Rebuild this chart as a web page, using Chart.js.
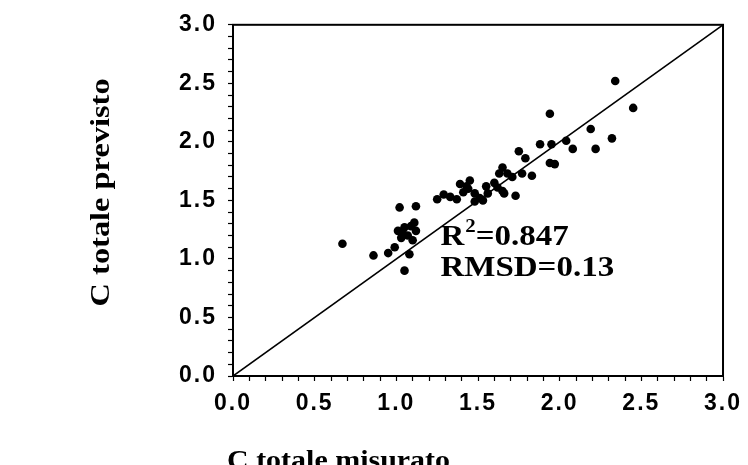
<!DOCTYPE html>
<html>
<head>
<meta charset="utf-8">
<script src="https://cdn.jsdelivr.net/npm/chart.js@4/dist/chart.umd.min.js"></script>
<style>
  html, body { margin: 0; padding: 0; background: #fff; }
  #wrap { width: 748px; height: 465px; position: relative; }
</style>
</head>
<body>
<div id="wrap"><canvas id="chart"></canvas></div>
<script>
// C totale misurato (x) vs C totale previsto (y)
const misurato = [
  0.67, 0.86, 0.95, 0.99, 1.02, 1.12, 1.05, 1.08, 1.01, 1.05, 1.07, 1.11, 1.12, 1.03, 1.10,
  1.25, 1.29, 1.33, 1.37, 1.39, 1.43, 1.45, 1.48, 1.51, 1.53, 1.48, 1.56, 1.60, 1.62, 1.65,
  1.66, 1.73, 1.63, 1.68, 1.71, 1.65, 1.75, 1.79, 1.77, 1.83, 1.88, 1.95, 1.94, 1.97, 1.94,
  2.04, 2.08, 2.19, 2.22, 2.32, 2.34, 2.45, 1.41, 1.44, 1.55, 1.04, 1.09
];
const previsto = [
  1.13, 1.03, 1.05, 1.10, 1.44, 1.45, 0.90, 1.04, 1.24, 1.27, 1.20, 1.31, 1.24, 1.18, 1.16,
  1.51, 1.55, 1.53, 1.51, 1.64, 1.62, 1.67, 1.56, 1.52, 1.50, 1.49, 1.56, 1.65, 1.61, 1.58,
  1.56, 1.54, 1.73, 1.73, 1.70, 1.78, 1.92, 1.86, 1.73, 1.71, 1.98, 1.98, 1.82, 1.81, 2.24,
  2.01, 1.94, 2.11, 1.94, 2.03, 2.52, 2.29, 1.57, 1.60, 1.62, 1.22, 1.28
];
const lineaX = [0, 3];
const lineaY = [0, 3];
const tickLabels = ['0.0', '0.5', '1.0', '1.5', '2.0', '2.5', '3.0'];
const statsLines = [
  { main: 'R', sup: '2', rest: '=0.847', x: 1.27, y: 1.115 },
  { main: 'RMSD=0.13', sup: '', rest: '', x: 1.27, y: 0.85 }
];

const punti = misurato.map((v, i) => ({ x: v, y: previsto[i] }));
const linea = lineaX.map((v, i) => ({ x: v, y: lineaY[i] }));

function tickCallback(value) {
  const k = Math.round(value * 10);
  return k % 5 === 0 ? tickLabels[k / 5] : '';
}

const serif = '"Liberation Serif", "Times New Roman", serif';
const sans = '"Liberation Sans", Arial, sans-serif';

// lettere un po' spaziate come nell'originale
const spacingPlugin = {
  id: 'spacing',
  beforeDraw(chart) { chart.ctx.letterSpacing = '2px'; },
  afterDraw(chart) { chart.ctx.letterSpacing = '0px'; }
};

// cornice + titoli degli assi + testo statistiche
const decorPlugin = {
  id: 'decor',
  afterDraw(chart) {
    const { ctx, chartArea: a, scales } = chart;
    ctx.save();
    ctx.letterSpacing = '0px';
    ctx.strokeStyle = '#000';
    ctx.lineWidth = 2;
    ctx.strokeRect(a.left, a.top, a.right - a.left, a.bottom - a.top);

    ctx.fillStyle = '#000';
    ctx.textBaseline = 'alphabetic';

    // titolo asse y
    ctx.save();
    ctx.translate(109, (a.top + a.bottom) / 2 - 8);
    ctx.rotate(-Math.PI / 2);
    ctx.scale(1.2, 1);
    ctx.font = 'bold 27px ' + serif;
    ctx.textAlign = 'center';
    ctx.fillText('C totale previsto', 0, 0);
    ctx.restore();

    // titolo asse x
    ctx.save();
    ctx.translate(a.left - 6, 469);
    ctx.scale(1.11, 1);
    ctx.font = 'bold 27px ' + serif;
    ctx.textAlign = 'left';
    ctx.fillText('C totale misurato', 0, 0);
    ctx.restore();

    // R2 e RMSD
    statsLines.forEach(s => {
      const px = scales.x.getPixelForValue(s.x);
      const py = scales.y.getPixelForValue(s.y);
      ctx.save();
      ctx.translate(px, py);
      ctx.scale(1.1, 1);
      ctx.textAlign = 'left';
      ctx.font = 'bold 30px ' + serif;
      ctx.fillText(s.main, 0, 0);
      let w = ctx.measureText(s.main).width;
      if (s.sup) {
        ctx.font = 'bold 19px ' + serif;
        ctx.fillText(s.sup, w + 1, -13);
        w += ctx.measureText(s.sup).width + 1;
        ctx.font = 'bold 30px ' + serif;
        ctx.fillText(s.rest, w, 0);
      }
      ctx.restore();
    });
    ctx.restore();
  }
};

new Chart(document.getElementById('chart'), {
  type: 'scatter',
  data: {
    datasets: [
      {
        label: 'punti',
        data: punti,
        backgroundColor: '#000',
        borderColor: '#000',
        pointRadius: 4.3,
        pointHoverRadius: 4.3,
        borderWidth: 0
      },
      {
        label: '1:1',
        type: 'line',
        data: linea,
        borderColor: '#000',
        borderWidth: 1.6,
        pointRadius: 0,
        fill: false
      }
    ]
  },
  options: {
    responsive: true,
    maintainAspectRatio: false,
    animation: false,
    layout: { padding: { top: 24, right: 17, bottom: 0, left: 0 } },
    plugins: {
      legend: { display: false },
      tooltip: { enabled: false }
    },
    scales: {
      x: {
        type: 'linear',
        min: 0,
        max: 3,
        afterFit(scale) { scale.height = 89; },
        border: { display: true, color: '#000', width: 2 },
        grid: {
          display: true,
          drawOnChartArea: false,
          drawTicks: true,
          tickLength: 5,
          tickWidth: 1.2,
          tickColor: '#000'
        },
        ticks: {
          stepSize: 0.1,
          autoSkip: false,
          maxRotation: 0,
          padding: 9,
          color: '#000',
          font: { family: sans, size: 23, weight: 'bold' },
          callback: tickCallback
        }
      },
      y: {
        type: 'linear',
        min: 0,
        max: 3,
        afterFit(scale) { scale.width = 233; },
        border: { display: true, color: '#000', width: 2 },
        grid: {
          display: true,
          drawOnChartArea: false,
          drawTicks: true,
          tickLength: 5,
          tickWidth: 1.2,
          tickColor: '#000'
        },
        ticks: {
          stepSize: 0.1,
          autoSkip: false,
          padding: 11,
          color: '#000',
          font: { family: sans, size: 23, weight: 'bold' },
          callback: tickCallback
        }
      }
    }
  },
  plugins: [spacingPlugin, decorPlugin]
});
</script>
</body>
</html>
